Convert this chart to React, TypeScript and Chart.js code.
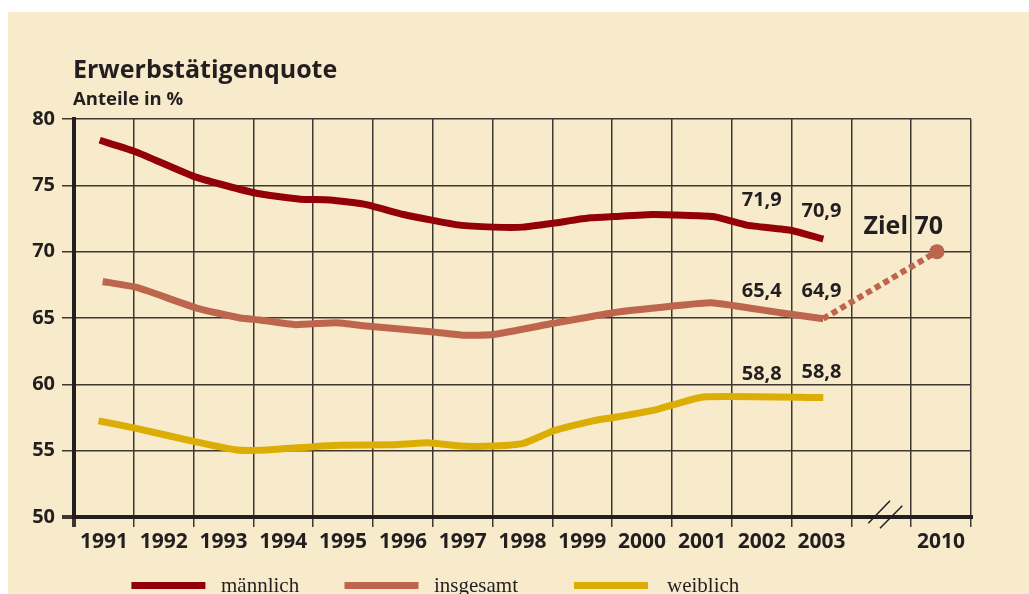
import React, { useEffect, useRef } from "react";
import { Chart, registerables } from "chart.js";

Chart.register(...registerables);

// ---------- data ----------
const xTickLabels = ["1991", "1992", "1993", "1994", "1995", "1996", "1997", "1998", "1999", "2000", "2001", "2002", "2003", "", "2010"];

// positions are in "year band" units: 0 = 1991 ... 12 = 2003, 14 = 2010
const maleX = [-0.07, 0.55, 1.55, 2.55, 3.28, 3.78, 4.39, 5.01, 5.95, 6.51, 7.01, 7.52, 8.13, 8.52, 9.19, 10.19, 10.75, 11.5, 12.03];
const maleValues = [78.4, 77.5, 75.6, 74.4, 73.95, 73.9, 73.55, 72.8, 72.0, 71.85, 71.85, 72.15, 72.55, 72.65, 72.8, 72.65, 72.0, 71.6, 70.95];

const totalX = [-0.02, 0.55, 1.55, 2.28, 2.61, 3.2, 3.89, 4.39, 5.51, 6.01, 6.51, 7.52, 8.52, 9.52, 10.16, 11.31, 12.03];
const totalValues = [67.75, 67.3, 65.75, 65.0, 64.85, 64.5, 64.65, 64.4, 63.95, 63.7, 63.75, 64.6, 65.4, 65.9, 66.15, 65.4, 64.95];

const femaleX = [-0.09, 0.52, 1.5, 2.22, 2.72, 3.5, 3.95, 4.84, 5.42, 5.95, 6.51, 7.01, 7.52, 8.18, 8.52, 9.24, 10.02, 12.03];
const femaleValues = [57.25, 56.7, 55.7, 55.05, 55.05, 55.3, 55.4, 55.45, 55.6, 55.35, 55.35, 55.55, 56.5, 57.25, 57.5, 58.1, 59.05, 59.0];

const targetX = [12.03, 13.93];
const targetValues = [64.95, 70];

const labelIndex = [11, 12, 11, 12, 11, 12];
const labelValues = [71.9, 70.9, 65.4, 64.9, 58.8, 58.8];

const seriesNames = ["männlich", "insgesamt", "weiblich"];
const seriesColors = ["#930008", "#bd654d", "#dcae05"];

const TEXT = "#231f20";
const GRID = "#3e3832";

const toPoints = (xs: number[], ys: number[]) => xs.map((x, i) => ({ x, y: ys[i] }));

// label offsets (pixels, style only)
const labelDy = [-20, -22.5, -15.5, -22, -20.5, -22.5];

const overlay = {
  id: "overlay",
  afterDraw(chart: any) {
    const ctx = chart.ctx as CanvasRenderingContext2D;
    const xs = chart.scales.x;
    const ys = chart.scales.y;
    const area = chart.chartArea;
    ctx.save();
    ctx.fillStyle = TEXT;
    ctx.textBaseline = "alphabetic";
    ctx.textAlign = "left";
    ctx.font = 'bold 25px "Open Sans"';
    ctx.fillText("Erwerbstätigenquote", 65, 66);
    ctx.font = 'bold 18.5px "Open Sans"';
    ctx.fillText("Anteile in %", 65, 93);

    // value labels
    ctx.font = 'bold 20px "Open Sans"';
    ctx.textAlign = "center";
    labelValues.forEach((v, i) => {
      const px = xs.getPixelForValue(labelIndex[i]);
      const py = ys.getPixelForValue(v) + labelDy[i];
      ctx.fillText(v.toFixed(1).replace(".", ","), px, py);
    });

    // target label
    ctx.font = 'bold 25px "Open Sans"';
    ctx.textAlign = "right";
    const tx = xs.getPixelForValue(14);
    const ty = ys.getPixelForValue(targetValues[1]);
    ctx.fillText("Ziel 70", tx + 2, ty - 17.5);

    // axis break marks
    const cx = xs.getPixelForValue(13);
    const b = area.bottom;
    ctx.strokeStyle = TEXT;
    ctx.lineWidth = 1.5;
    ctx.beginPath();
    ctx.moveTo(cx - 13, b + 6.3);
    ctx.lineTo(cx + 8.7, b - 16.3);
    ctx.moveTo(cx - 1.3, b + 11.3);
    ctx.lineTo(cx + 21, b - 11.3);
    ctx.stroke();

    // legend
    const swatchX = [123.4, 336.5, 566];
    const textX = [213, 426, 659];
    ctx.font = '21px "Liberation Serif"';
    ctx.textAlign = "left";
    seriesNames.forEach((name, i) => {
      ctx.fillStyle = seriesColors[i];
      ctx.fillRect(swatchX[i], 570, 74, 7);
      ctx.fillStyle = TEXT;
      ctx.fillText(name, textX[i], 580);
    });
    ctx.restore();
  },
};

export default function App() {
  const ref = useRef<HTMLCanvasElement>(null);
  useEffect(() => {
    if (!ref.current) return;
    const lineDs = (label: string, data: any[], color: string) => ({
      label,
      data,
      borderColor: color,
      backgroundColor: color,
      borderWidth: 7,
      pointRadius: 0,
      tension: 0.15,
      borderCapStyle: "butt" as const,
      borderJoinStyle: "round" as const,
      fill: false,
    });
    const chart = new Chart(ref.current, {
      type: "line",
      data: {
        datasets: [
          lineDs(seriesNames[2], toPoints(femaleX, femaleValues), seriesColors[2]),
          lineDs(seriesNames[1], toPoints(totalX, totalValues), seriesColors[1]),
          lineDs(seriesNames[0], toPoints(maleX, maleValues), seriesColors[0]),
          {
            label: "Ziel",
            data: toPoints(targetX, targetValues),
            borderColor: seriesColors[1],
            backgroundColor: seriesColors[1],
            borderWidth: 6,
            borderDash: [6, 4],
            borderCapStyle: "butt",
            pointRadius: (c: any) => (c.dataIndex === 1 ? 7.5 : 0),
            pointBorderWidth: 0,
            pointBackgroundColor: seriesColors[1],
            tension: 0,
            fill: false,
          } as any,
        ],
      },
      options: {
        responsive: false,
        animation: false,
        events: [],
        layout: { padding: { top: 107, right: 58, bottom: 0, left: 0 } },
        plugins: { legend: { display: false }, tooltip: { enabled: false }, title: { display: false } },
        scales: {
          x: {
            type: "linear",
            min: -0.5,
            max: 14.5,
            afterBuildTicks: (s: any) => {
              s.ticks = xTickLabels.map((_, i) => ({ value: i }));
            },
            afterFit: (s: any) => {
              s.height = 77;
            },
            grid: {
              offset: true,
              color: GRID,
              lineWidth: (c: any) => (c.index === 0 ? 4 : 1.5),
              tickLength: 10,
              drawTicks: true,
            },
            border: { display: true, color: TEXT, width: 4 },
            ticks: {
              autoSkip: false,
              maxRotation: 0,
              padding: 2,
              color: TEXT,
              font: { family: "Open Sans", weight: "bold", size: 21 },
              callback: (v: any) => xTickLabels[Math.round(Number(v))] ?? "",
            },
          },
          y: {
            min: 50,
            max: 80,
            afterFit: (s: any) => {
              s.width = 66;
            },
            grid: {
              color: GRID,
              lineWidth: (c: any) => (c.tick && c.tick.value === 50 ? 4 : 1.5),
              tickLength: 12,
            },
            border: { display: true, color: TEXT, width: 4 },
            ticks: {
              stepSize: 5,
              padding: 7,
              color: TEXT,
              font: { family: "Open Sans", weight: "bold", size: 20 },
            },
          },
        },
      } as any,
      plugins: [overlay],
    });
    return () => chart.destroy();
  }, []);
  return (
    <div
      style={{
        position: "absolute",
        left: 8,
        top: 12,
        width: 1021,
        height: 582,
        background: "#f7ebcb",
        overflow: "hidden",
      }}
    >
      <canvas ref={ref} width={1021} height={582} style={{ width: 1021, height: 582, display: "block" }} />
    </div>
  );
}
